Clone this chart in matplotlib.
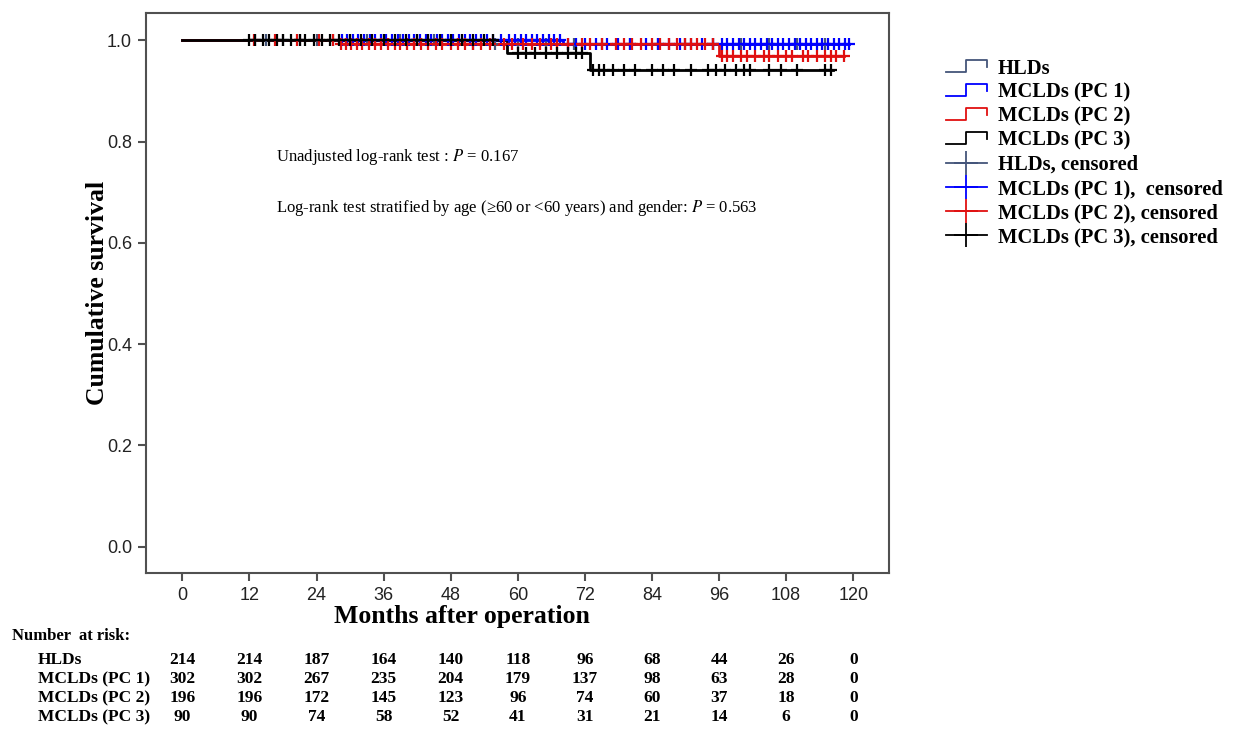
import numpy as np
import matplotlib
matplotlib.use("Agg")
import matplotlib.pyplot as plt
from matplotlib.lines import Line2D
from matplotlib.legend_handler import HandlerBase
from matplotlib.transforms import blended_transform_factory

plt.rcParams['mathtext.fontset'] = 'stix'

# ---- data ----
groups = ["HLDs", "MCLDs (PC 1)", "MCLDs (PC 2)", "MCLDs (PC 3)"]
colors = ["#44557a", "#0000ff", "#e01010", "#000000"]

# step curves: times where survival changes, and survival after each step
hld_times = [0, 50, 117]
hld_surv = [1.0, 0.993, 0.993]
pc1_times = [0, 68, 119.3]
pc1_surv = [1.0, 0.993, 0.993]
pc2_times = [0, 28, 96, 118.4]
pc2_surv = [1.0, 0.993, 0.970, 0.970]
pc3_times = [0, 58, 73, 116.3]
pc3_surv = [1.0, 0.975, 0.942, 0.942]

# censored times
hld_cens = [13, 15, 18, 21, 24, 27, 30, 33, 36, 39, 42, 45, 48, 52, 56, 60, 65,
            70, 75, 80, 85, 90, 95, 100, 105, 110, 115]
pc1_cens = [28.5, 29.5, 30.5, 31.5, 32.5, 33.5, 34.5, 35.5, 36.5, 37.5, 38.5,
            39.5, 40.5, 41.5, 42.5, 43.5, 44.5, 45.5, 46.5, 47.5, 48.5, 49.5,
            50.5, 51.5, 52.5, 53.5, 54.5, 55.5, 57, 58.5, 59.5, 60.5, 61.5, 62.5,
            63.5, 64.5, 65.5, 66.5, 67.5, 69, 70.5, 72, 74, 76, 78, 80, 83, 85,
            87, 89, 91, 93, 95, 96.5, 97.5, 98.5, 99.5, 100.5, 101.5, 102.5,
            103.5, 104.5, 105.5, 106.5, 107.5, 108.5, 109.5, 110.5, 111.5, 112.5,
            113.5, 114.5, 115.5, 116.5, 117.5, 118.5, 119.3]
pc2_cens = [12.8, 16.5, 20.5, 24.5, 27, 28.3, 29.2, 30.2, 31.2, 32.2, 33.4, 34.4,
            35.6, 36.8, 38, 39, 40.2, 41.4, 42.6, 44, 45.4, 46.5, 48, 49.3, 50.6,
            52, 53.5, 55, 57.5, 59, 61, 62.5, 64, 66, 67, 69, 71.5, 73, 75, 77.5,
            79, 80.5, 82, 84, 85.5, 87, 88.5, 90, 91, 92, 93.5, 95,
            96.5, 97.5, 98.5, 100, 101, 102.5, 104, 105, 106.5, 108, 109, 111,
            112, 113.5, 115, 116, 117, 118.4]
pc3_cens = [12, 13, 14.5, 15.5, 17, 18, 19.5, 21, 22, 23.5, 25, 26.5, 28, 30, 32,
            34, 36, 38, 40, 42, 44, 46, 48, 50, 52, 54, 55.5,
            60, 61.5, 63, 65, 67, 69, 70.5, 71.5,
            73.5, 74.5, 75.5, 77, 79, 81, 84, 86, 88, 91, 94, 95.5, 97, 99,
            100.5, 101.5, 105, 107, 110, 115, 116]

risk_months = [0, 12, 24, 36, 48, 60, 72, 84, 96, 108, 120]
risk_hld = [214, 214, 187, 164, 140, 118, 96, 68, 44, 26, 0]
risk_pc1 = [302, 302, 267, 235, 204, 179, 137, 98, 63, 28, 0]
risk_pc2 = [196, 196, 172, 145, 123, 96, 74, 60, 37, 18, 0]
risk_pc3 = [90, 90, 74, 58, 52, 41, 31, 21, 14, 6, 0]

all_times = [hld_times, pc1_times, pc2_times, pc3_times]
all_surv = [hld_surv, pc1_surv, pc2_surv, pc3_surv]
all_cens = [hld_cens, pc1_cens, pc2_cens, pc3_cens]
all_risk = [risk_hld, risk_pc1, risk_pc2, risk_pc3]


def surv_at(t, times, surv):
    idx = np.searchsorted(times, t, side='right') - 1
    return np.array(surv)[idx]


class StepHandler(HandlerBase):
    def create_artists(self, legend, orig_handle, xdescent, ydescent,
                       width, height, fontsize, trans):
        x0, y0 = -xdescent, -ydescent
        xs = [x0, x0 + 0.5 * width, x0 + 0.5 * width, x0 + width, x0 + width]
        ys = [y0 + 0.1 * height, y0 + 0.1 * height, y0 + 0.95 * height,
              y0 + 0.95 * height, y0 + 0.45 * height]
        ln = Line2D(xs, ys, color=orig_handle.get_color(), lw=1.3)
        ln.set_transform(trans)
        return [ln]


serif = 'Liberation Serif'
sans = 'Liberation Sans'

fig = plt.figure(figsize=(12.34, 7.30), dpi=100)
ax = fig.add_axes([146 / 1234, 1 - 573 / 730, 743 / 1234, 560 / 730])

for times, surv, cens, col in zip(all_times, all_surv, all_cens, colors):
    ax.step(times, surv, where='post', color=col, lw=2.0, zorder=2)
    ax.plot(cens, surv_at(np.array(cens), times, surv), ls='none', marker='+',
            ms=8, mew=1.6, color=col, zorder=3)

ax.set_xlim(-6.5, 126.4)
ax.set_ylim(-0.052, 1.054)
ax.set_xticks(risk_months)
ax.set_yticks([0.0, 0.2, 0.4, 0.6, 0.8, 1.0])
ax.set_yticklabels(['0.0', '0.2', '0.4', '0.6', '0.8', '1.0'])
for s in ['left', 'right', 'top', 'bottom']:
    ax.spines[s].set_color('#505050')
    ax.spines[s].set_linewidth(1.5)
ax.tick_params(direction='out', length=6, width=1.5, color='#505050',
               labelsize=13, pad=4, labelcolor='#222222')
for lab in ax.get_xticklabels() + ax.get_yticklabels():
    lab.set_fontfamily(sans)

ax.text(16.8, 0.769, r"Unadjusted log-rank test : $P$ = 0.167",
        fontsize=12, family=serif, va='center', ha='left')
ax.text(16.8, 0.668,
        r"Log-rank test stratified by age (≥60 or <60 years) and gender: $P$ = 0.563",
        fontsize=12, family=serif, va='center', ha='left')

fig.text(97 / 1234, 1 - 293 / 730, "Cumulative survival", rotation=90,
         fontsize=18.5, fontweight='bold', family=serif, ha='center', va='center')
fig.text(462 / 1234, 1 - 617 / 730, "Months after operation",
         fontsize=18.5, fontweight='bold', family=serif, ha='center', va='center')

# legend
handles = [Line2D([], [], color=c) for c in colors]
cens_handles = [Line2D([], [], color=c, lw=1.3, marker='+', ms=17, mew=1.3)
                for c in colors]
labels = ["HLDs", "MCLDs (PC 1)", "MCLDs (PC 2)", "MCLDs (PC 3)",
          "HLDs, censored", "MCLDs (PC 1),  censored",
          "MCLDs (PC 2), censored", "MCLDs (PC 3), censored"]
hmap = {h: StepHandler() for h in handles}
fig.legend(handles + cens_handles, labels, handler_map=hmap,
           loc='upper left', bbox_to_anchor=(927 / 1234, 1 - 40 / 730),
           frameon=False, handlelength=2.0, handletextpad=0.55,
           labelspacing=0.2, prop={'family': serif, 'weight': 'bold', 'size': 14.8})

# number at risk table
fig.text(12 / 1234, 1 - 636 / 730, "Number  at risk:", fontsize=12,
         fontweight='bold', family=serif, ha='left', va='center')
tr = blended_transform_factory(ax.transData, fig.transFigure)
row_y = [660, 679, 698, 717]
for name, risk, yy in zip(groups, all_risk, row_y):
    fig.text(38 / 1234, 1 - yy / 730, name, fontsize=12.5, fontweight='bold',
             family=serif, ha='left', va='center')
    for m, n in zip(risk_months, risk):
        ax.text(m, 1 - yy / 730, str(n), transform=tr, fontsize=12.5,
                fontweight='bold', family=serif, ha='center', va='center',
                clip_on=False)

fig.savefig("out.png", dpi=100)
